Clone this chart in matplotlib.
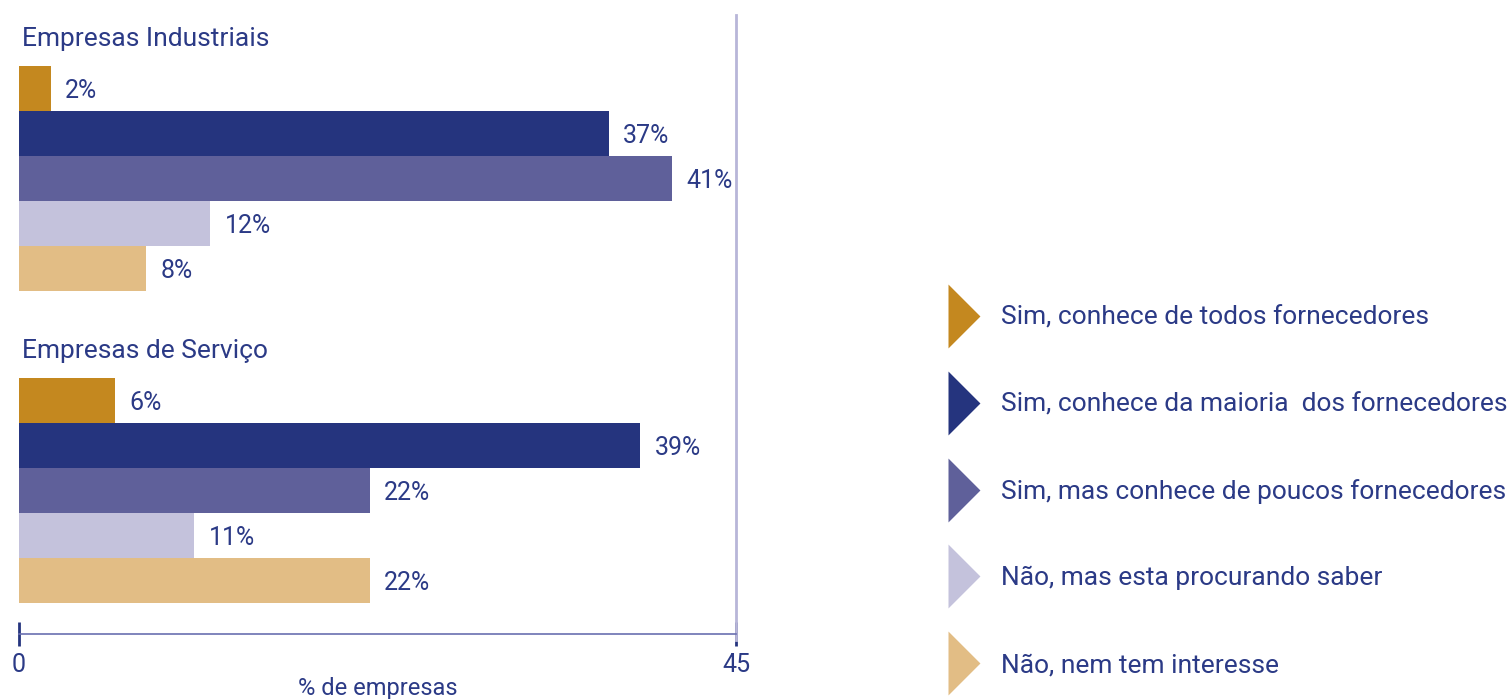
import matplotlib.pyplot as plt
from matplotlib.path import Path
from matplotlib.transforms import blended_transform_factory

plt.rcParams['font.family'] = ['Roboto', 'DejaVu Sans']

groups = ['Empresas Industriais', 'Empresas de Serviço']
answers = ['Sim, conhece de todos fornecedores',
           'Sim, conhece da maioria  dos fornecedores',
           'Sim, mas conhece de poucos fornecedores',
           'Não, mas esta procurando saber',
           'Não, nem tem interesse']
industriais = [2, 37, 41, 12, 8]
servico = [6, 39, 22, 11, 22]
axis_ticks = [0, 45]
colors = ['#c4881f', '#25347e', '#5f609a', '#c4c2dc', '#e2bd85']
text_color = '#2b3a86'

W, H = 1510, 699
fig = plt.figure(figsize=(W / 100, H / 100), dpi=100)

# full-figure overlay in pixel units, used for the legend and the axis ticks
lax = fig.add_axes([0, 0, 1, 1], zorder=2)
lax.set_xlim(0, W)
lax.set_ylim(H, 0)
lax.axis('off')

# bar area: 0 -> x=19px, 45 -> x=736px ; bars from y=66px to y=603px
ax = fig.add_axes([19 / W, 1 - 603 / H, (736 - 19) / W, 537 / H], zorder=1)
gap = 6.93
for g, (vals, offset) in enumerate(zip([industriais, servico], [0, gap])):
    ys = [offset + i for i in range(len(vals))]
    ax.barh(ys, vals, height=1.0, color=colors, left=0)
    for y, v in zip(ys, vals):
        ax.text(v + 0.9, y + 0.05, f'{v}%', va='center', ha='left',
                fontsize=18, color=text_color)
    ax.text(0.2, offset - 1.1, groups[g], va='center', ha='left',
            fontsize=19, color=text_color)

ax.set_xlim(0, 45)
ax.set_ylim(gap + 4.5, -0.5)
for s in ['top', 'right', 'left']:
    ax.spines[s].set_visible(False)
ax.spines['bottom'].set_position(('outward', 22.3))
ax.spines['bottom'].set_color('#6a6fb0')
ax.spines['bottom'].set_linewidth(1.2)
ax.set_yticks([])
ax.set_xticks(axis_ticks)
ax.tick_params(axis='x', length=0, labelcolor=text_color, labelsize=18,
               pad=13.5)
ax.set_xlabel('% de empresas', fontsize=17, color=text_color, labelpad=0)

# tick marks crossing the axis line
tick_tf = blended_transform_factory(ax.transData, lax.transData)
ax.plot(axis_ticks, [634] * len(axis_ticks), transform=tick_tf,
        marker='|', markersize=17, markeredgewidth=2, color='#25347e',
        linestyle='none', clip_on=False)

# vertical divider at 45
ax.axvline(45, ymin=(603 - 640) / 537, ymax=(603 - 15) / 537,
           color='#b8b6d8', linewidth=2, clip_on=False)

# legend with triangle markers
tri = Path([(0, -1), (0, 1), (1, 0), (0, -1)],
           [Path.MOVETO, Path.LINETO, Path.LINETO, Path.CLOSEPOLY])
for i, (name, c) in enumerate(zip(answers, colors)):
    y = 316 + i * 86.75
    lax.plot([948], [y], marker=tri, markersize=46, color=c,
             markeredgewidth=0, linestyle='none')
    lax.text(1001, y + 2, name, va='center', ha='left',
             fontsize=19, color=text_color)

fig.savefig('out.png', dpi=100)
